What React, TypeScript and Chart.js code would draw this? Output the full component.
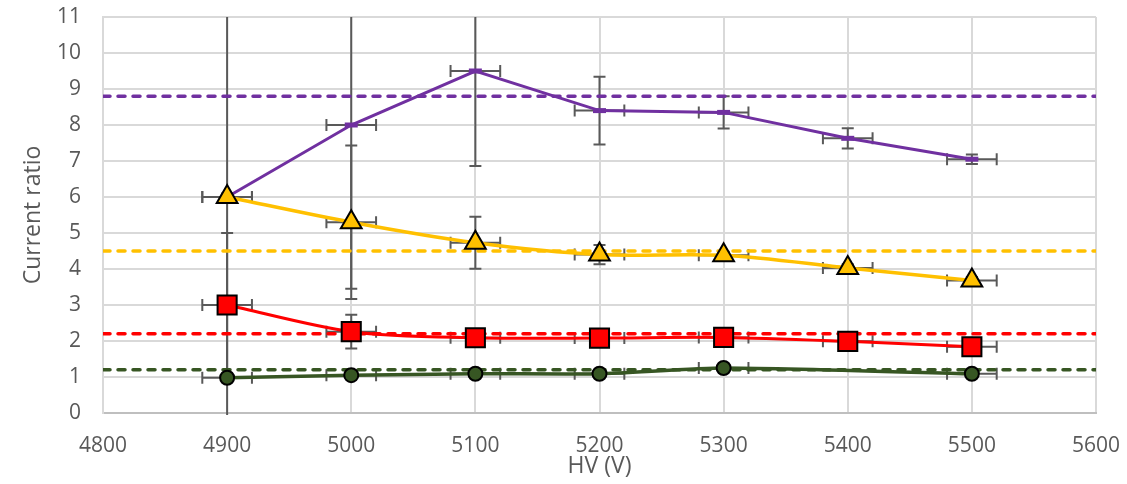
import React, { useEffect, useRef } from "react";
import { Chart, registerables } from "chart.js";

Chart.register(...registerables);

const hv = [4900, 5000, 5100, 5200, 5300, 5400, 5500];
const hvErr = [20, 20, 20, 20, 20, 20, 20];

const purpleVals = [6.0, 8.0, 9.5, 8.4, 8.35, 7.63, 7.05];
const purpleErr = [6.5, 4.55, 2.64, 0.94, 0.45, 0.28, 0.13];

const yellowVals = [6.0, 5.3, 4.73, 4.4, 4.38, 4.03, 3.68];
const yellowErr = [0.1, 2.13, 0.72, 0.27, 0.1, 0.1, 0.1];

const redVals = [3.0, 2.26, 2.09, 2.08, 2.1, 1.99, 1.84];
const redErr = [2.0, 0.47, 0.1, 0.1, 0.1, 0.1, 0.1];

const greenHv = [4900, 5000, 5100, 5200, 5300, 5500];
const greenVals = [0.98, 1.05, 1.09, 1.09, 1.25, 1.09];
const greenErr = [0.05, 0.05, 0.05, 0.05, 0.05, 0.05];
const greenHvErr = [20, 20, 20, 20, 20, 20];

const refLevels = [8.8, 4.5, 2.2, 1.2];
const refColors = ["#7030A0", "#FFC000", "#FF0000", "#375623"];
const xRange = [4800, 5600];

const pts = (xs: number[], ys: number[]) => xs.map((x, i) => ({ x, y: ys[i] }));

const errorSeries = [
  { xs: hv, ys: purpleVals, yErr: purpleErr, xErr: hvErr },
  { xs: hv, ys: yellowVals, yErr: yellowErr, xErr: hvErr },
  { xs: hv, ys: redVals, yErr: redErr, xErr: hvErr },
  { xs: greenHv, ys: greenVals, yErr: greenErr, xErr: greenHvErr },
];

const errorBarPlugin = {
  id: "errorBars",
  beforeDatasetsDraw(chart: any) {
    const { ctx, chartArea, scales } = chart;
    const xs = scales.x;
    const ys = scales.y;
    ctx.save();
    ctx.beginPath();
    ctx.rect(chartArea.left, chartArea.top, chartArea.right - chartArea.left, chartArea.bottom - chartArea.top + 2);
    ctx.clip();
    ctx.strokeStyle = "#595959";
    ctx.lineWidth = 2;
    const cap = 6;
    errorSeries.forEach((s) => {
      s.xs.forEach((xv, i) => {
        const yv = s.ys[i];
        const px = xs.getPixelForValue(xv);
        const py = ys.getPixelForValue(yv);
        const yt = ys.getPixelForValue(yv + s.yErr[i]);
        const yb = ys.getPixelForValue(yv - s.yErr[i]);
        ctx.beginPath();
        ctx.moveTo(px, yt);
        ctx.lineTo(px, yb);
        ctx.moveTo(px - cap, yt);
        ctx.lineTo(px + cap, yt);
        ctx.moveTo(px - cap, yb);
        ctx.lineTo(px + cap, yb);
        ctx.stroke();
        const xl = xs.getPixelForValue(xv - s.xErr[i]);
        const xr = xs.getPixelForValue(xv + s.xErr[i]);
        ctx.beginPath();
        ctx.moveTo(xl, py);
        ctx.lineTo(xr, py);
        ctx.moveTo(xl, py - cap);
        ctx.lineTo(xl, py + cap);
        ctx.moveTo(xr, py - cap);
        ctx.lineTo(xr, py + cap);
        ctx.stroke();
      });
    });
    ctx.restore();
  },
};

export default function App() {
  const ref = useRef<HTMLCanvasElement | null>(null);
  useEffect(() => {
    document.body.style.margin = "0";
    if (!ref.current) return;
    const refDatasets = refLevels.map((lv, i) => ({
      label: "ref" + i,
      data: [
        { x: xRange[0], y: lv },
        { x: xRange[1], y: lv },
      ],
      showLine: true,
      borderColor: refColors[i],
      borderWidth: 3.5,
      borderDash: [7, 8],
      borderCapStyle: "round",
      pointRadius: 0,
      order: 10,
    }));
    const chart = new Chart(ref.current, {
      type: "scatter",
      data: {
        datasets: [
          ...refDatasets,
          {
            label: "purple",
            data: pts(hv, purpleVals),
            showLine: true,
            borderColor: "#7030A0",
            borderWidth: 3,
            pointStyle: "line",
            pointRadius: 6.5,
            pointBorderWidth: 5,
            pointBorderColor: "#7030A0",
            tension: 0,
            order: 4,
          },
          {
            label: "yellow",
            data: pts(hv, yellowVals),
            showLine: true,
            borderColor: "#FFC000",
            borderWidth: 3.5,
            pointStyle: "triangle",
            pointRadius: 12,
            pointBackgroundColor: "#FFC000",
            pointBorderColor: "#000000",
            pointBorderWidth: 2,
            tension: 0.3,
            order: 3,
          },
          {
            label: "red",
            data: pts(hv, redVals),
            showLine: true,
            borderColor: "#FF0000",
            borderWidth: 3,
            pointStyle: "rect",
            pointRadius: 13.5,
            pointBackgroundColor: "#FF0000",
            pointBorderColor: "#000000",
            pointBorderWidth: 2,
            tension: 0.3,
            order: 2,
          },
          {
            label: "green",
            data: pts(greenHv, greenVals),
            showLine: true,
            borderColor: "#375623",
            borderWidth: 3.5,
            pointStyle: "circle",
            pointRadius: 7,
            pointBackgroundColor: "#375623",
            pointBorderColor: "#000000",
            pointBorderWidth: 2,
            tension: 0.2,
            order: 1,
          },
        ],
      },
      options: {
        animation: false,
        responsive: false,
        maintainAspectRatio: false,
        layout: { padding: { top: 17, right: 31, left: 0, bottom: 0 } },
        plugins: { legend: { display: false }, tooltip: { enabled: false } },
        scales: {
          x: {
            type: "linear",
            min: 4800,
            max: 5600,
            ticks: {
              stepSize: 100,
              color: "#595959",
              font: { family: "Open Sans", size: 21 },
              padding: 0,
              callback: (v: any) => String(v),
            },
            grid: { color: "#D9D9D9", lineWidth: 2, drawTicks: true, tickLength: 20, tickColor: "rgba(0,0,0,0)" },
            border: { color: "#BFBFBF", width: 2 },
            title: {
              display: true,
              text: "HV (V)",
              color: "#595959",
              font: { family: "Open Sans", size: 23 },
              padding: { top: 0, bottom: 4 },
            },
            afterFit: (s: any) => {
              s.height = 71;
            },
          },
          y: {
            min: 0,
            max: 11,
            ticks: {
              stepSize: 1,
              color: "#595959",
              font: { family: "Open Sans", size: 21 },
              padding: 0,
            },
            grid: { color: "#D9D9D9", lineWidth: 2, drawTicks: true, tickLength: 22, tickColor: "rgba(0,0,0,0)" },
            border: { color: "#D9D9D9", width: 2 },
            title: {
              display: true,
              text: "Current ratio",
              color: "#595959",
              font: { family: "Open Sans", size: 23 },
              padding: { top: 20, bottom: 0 },
            },
            afterFit: (s: any) => {
              s.width = 103;
            },
          },
        },
      },
      plugins: [errorBarPlugin],
    } as any);
    return () => chart.destroy();
  }, []);
  return (
    <div style={{ position: "relative", width: 1127, height: 484 }}>
      <canvas ref={ref} width={1127} height={484} style={{ width: 1127, height: 484, display: "block" }} />
    </div>
  );
}
